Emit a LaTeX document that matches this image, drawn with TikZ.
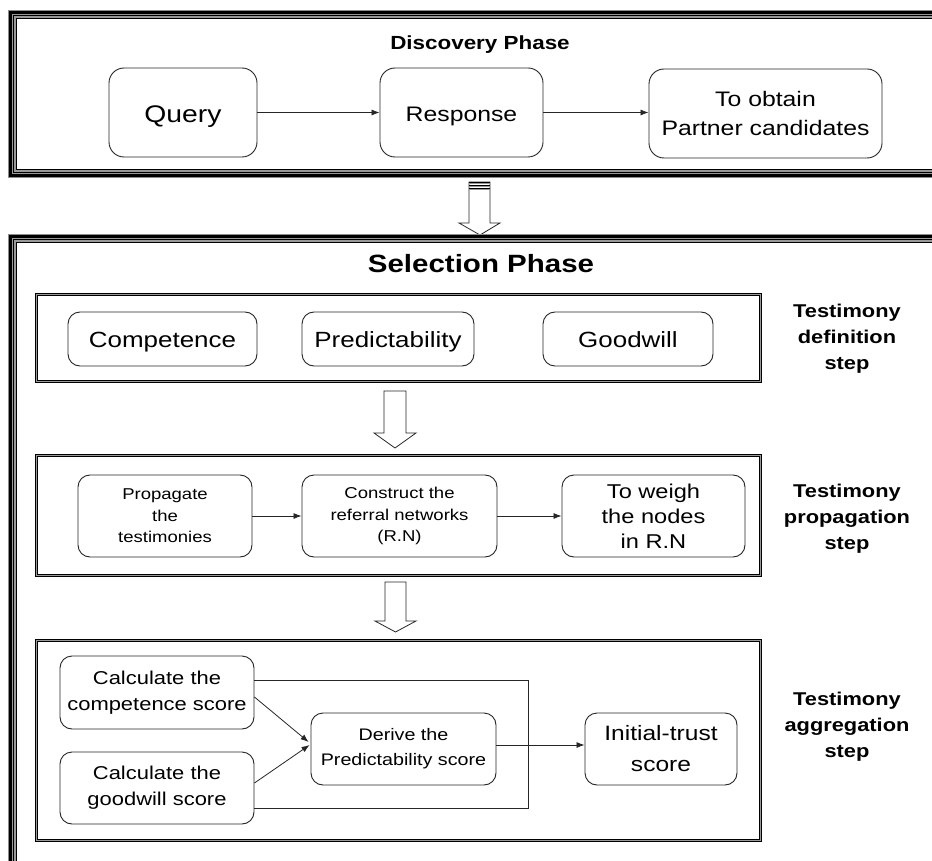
\documentclass[tikz,border=0pt]{standalone}
\usepackage{fontspec}
\setmainfont{Liberation Sans}[FakeStretch=1.18]
\usetikzlibrary{arrows.meta,calc}

% heavy striped frame of a phase: x1 y1 x2 y2
\newcommand\phaseframe[4]{%
  \foreach \d/\w/\c in {0.6/1.2/black!45, 2.6/2.8/black, 4.6/1.2/black!40, 5.8/1.2/black, 7.0/1.2/black!40, 8.1/1/black}
    \draw[\c, line width=\w pt] (#1+\d, #2+\d) rectangle (#3-\d, #4-\d);%
}
% light double frame of a step: x1 y1 x2 y2
\newcommand\stepframe[4]{%
  \draw[black, line width=0.9pt, double=black!40, double distance=1.4pt]
    (#1+1.6, #2+1.6) rectangle (#3-1.6, #4-1.6);%
}

\begin{document}
\begin{tikzpicture}[x=1pt, y=-1pt,
  box/.style={draw=black!85, line width=0.9pt, rounded corners=12pt, fill=white,
              align=center, inner sep=0pt},
  oneline/.style={text height=19pt, text depth=3pt},
  link/.style={draw=black!85, line width=0.8pt},
  tip/.style={link, -{Latex[length=8pt,width=6pt]}},
  blockarrow/.style={draw=black!85, line width=0.8pt, fill=white, line join=miter},
  steplabel/.style={font=\bfseries\fontsize{18.5}{26}\selectfont, align=center},
  title/.style={font=\bfseries\fontsize{#1}{#1}\selectfont},
]
\useasboundingbox (0,0) rectangle (932,861);
\fill[white] (0,0) rectangle (932,861);

% ---------------- Discovery phase ----------------
\phaseframe{8}{10}{950}{178}
\node[title=19] (discovery) at (480,45) {Discovery Phase};

\node[box, rounded corners=15pt, minimum width=148, minimum height=89,
      text height=24pt, text depth=3pt,
      font=\fontsize{24}{28}\selectfont] (query) at (183,112.5) {Query};
\node[box, rounded corners=15pt, minimum width=163, minimum height=89,
      text height=22pt, text depth=3pt,
      font=\fontsize{21}{28}\selectfont] (response) at (461.5,112.5) {Response};
\node[box, rounded corners=15pt, minimum width=233, minimum height=89,
      font=\fontsize{21}{29}\selectfont] (obtain) at (765.5,113.5) {To obtain\\Partner candidates};

\draw[tip] (query) -- (response);
\draw[tip] (response.east) -- (obtain.west |- response.east);

% block arrow between the phases
\draw[blockarrow] (469,182) -- (490,182) -- (490,223) -- (500,223) -- (480,235)
  -- (459,223) -- (469,223) -- cycle;
\foreach \yy/\c in {182.5/black, 184/black!40, 185.5/black, 187/black!40, 188.5/black, 190/black!40}
  \draw[\c, line width=1pt] (469.4,\yy) -- (489.6,\yy);

% ---------------- Selection phase ----------------
\phaseframe{8}{234}{950}{880}
\node[title=25] (selection) at (481,264) {Selection Phase};

% testimony definition step
\stepframe{35}{293}{762}{383}
\node[box, oneline, minimum width=189, minimum height=54, font=\fontsize{22}{26}\selectfont]
  (competence) at (162.5,339) {Competence};
\node[box, oneline, minimum width=172, minimum height=54, font=\fontsize{22}{26}\selectfont]
  (predictability) at (388,339) {Predictability};
\node[box, oneline, minimum width=170, minimum height=54, font=\fontsize{22}{26}\selectfont]
  (goodwill) at (628,339) {Goodwill};
\node[steplabel] (defstep) at (847,339) {Testimony\\definition\\step};

\draw[blockarrow] (384,391) -- (406,391) -- (406,433) -- (416,433) -- (395,448)
  -- (374,433) -- (384,433) -- cycle;

% testimony propagation step
\stepframe{35}{454}{762}{577}
\node[box, minimum width=174, minimum height=82, font=\fontsize{15.7}{21.5}\selectfont]
  (propagate) at (165,516) {Propagate\\the\\testimonies};
\node[box, minimum width=195, minimum height=82, font=\fontsize{15.7}{21.5}\selectfont]
  (construct) at (399.5,516) {Construct the\\referral networks\\(R.N)};
\node[box, minimum width=183, minimum height=82, font=\fontsize{20}{25}\selectfont]
  (weigh) at (653.5,516) {To weigh\\the nodes\\in R.N};
\node[steplabel] (propstep) at (847,519) {Testimony\\propagation\\step};

\draw[tip] (propagate) -- (construct);
\draw[tip] (construct) -- (weigh);

\draw[blockarrow] (385,582) -- (406,582) -- (406,621) -- (416,621) -- (395.5,632)
  -- (375,621) -- (385,621) -- cycle;

% testimony aggregation step
\stepframe{35}{639}{762}{842}
\node[box, minimum width=194, minimum height=73, font=\fontsize{18.6}{26}\selectfont]
  (calccomp) at (157,692.5) {Calculate the\\competence score};
\node[box, minimum width=194, minimum height=72, font=\fontsize{18.6}{26}\selectfont]
  (calcgood) at (157,788) {Calculate the\\goodwill score};
\node[box, minimum width=185, minimum height=72, font=\fontsize{16.7}{25}\selectfont]
  (derive) at (403.5,749) {Derive the\\Predictability score};
\node[box, minimum width=152, minimum height=72, font=\fontsize{20.8}{31}\selectfont]
  (initial) at (661,749) {Initial-trust\\score};
\node[steplabel] (aggstep) at (847,727) {Testimony\\aggregation\\step};

\draw[link] ($(calccomp.east)+(0,-12.5)$) -- ++(274,0) |- ($(calcgood.east)+(0,20)$);
\draw[tip] ($(calccomp.east)+(0,4.5)$) -- ($(derive.west)+(-2,-7)$);
\draw[tip] ($(calcgood.east)+(0,-5)$) -- ($(derive.west)+(-1,-4)$);
\draw[tip] ($(derive.east)+(0,-4)$) -- ($(initial.west)+(0,-4)$);
\end{tikzpicture}
\end{document}
